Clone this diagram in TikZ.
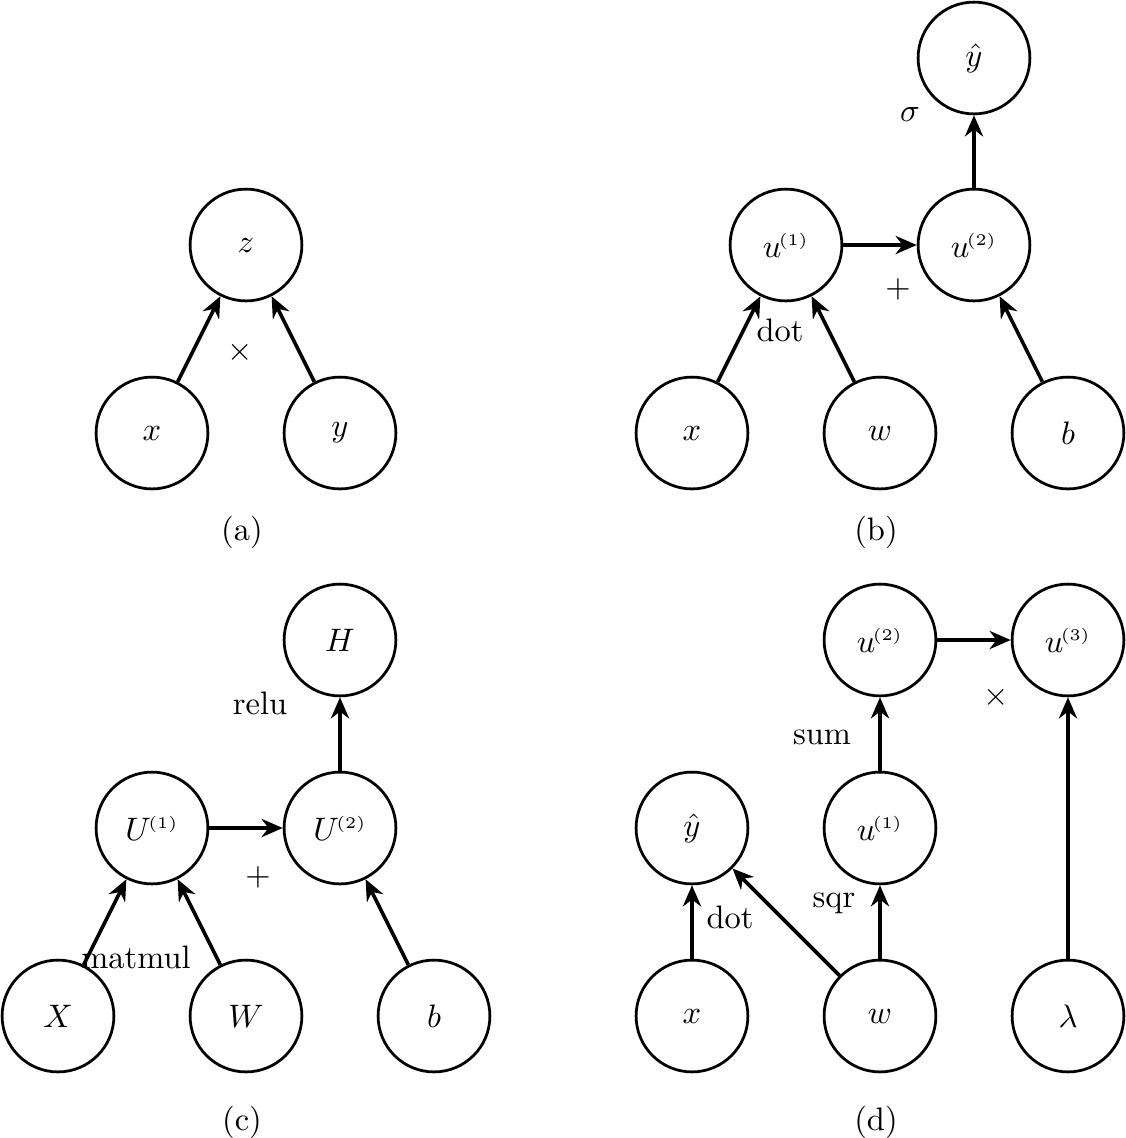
\documentclass[tikz,border=0pt]{standalone}
\usetikzlibrary{arrows.meta}
\newcommand{\supidx}[1]{^{\kern-0.8pt\scriptscriptstyle(#1)}}
\begin{document}
\begin{tikzpicture}[x=0.3077pt,y=-0.3077pt,
  var/.style={circle,draw,line width=0.85pt,minimum size=34.4pt,inner sep=0pt},
  edge/.style={-{Stealth[length=6.5pt,width=5.6pt]},line width=1.1pt},
  thickedge/.style={edge,line width=1.35pt},
  oplab/.style={inner sep=0pt}]
\useasboundingbox (0,0) rectangle (1126,1138);
% ---------- (a)
\node[var] (ax) at (152,433) {$x$};
\node[var] (ay) at (340,433) {$y$};
\node[var] (az) at (246,245) {$z$};
\draw[edge] (ax) -- (az);
\draw[edge] (ay) -- (az);
\node[oplab] (aop) at (240,352) {$\times$};
\node (acap) at (242,532) {(a)};
% ---------- (b)
\node[var] (bx) at (692,433) {$x$};
\node[var] (bw) at (880,433) {$w$};
\node[var] (bb) at (1068,433) {$b$};
\node[var] (bu1) at (786,245) {$u\supidx{1}$};
\node[var] (bu2) at (974,245) {$u\supidx{2}$};
\node[var] (by) at (974,58) {$\hat{y}$};
\draw[edge] (bx) -- (bu1);
\draw[edge] (bw) -- (bu1);
\draw[thickedge] (bu1) -- (bu2);
\draw[edge] (bb) -- (bu2);
\draw[edge] (bu2) -- (by);
\node[oplab] (bdot) at (780,330) {dot};
\node[oplab] (bplus) at (898,289) {$+$};
\node[oplab] (bsig) at (910,114) {$\sigma$};
\node (bcap) at (876,532) {(b)};
% ---------- (c)
\node[var] (cX) at (58,1016) {$X$};
\node[var] (cW) at (246,1016) {$W$};
\node[var] (cb) at (434,1016) {$b$};
\node[var] (cU1) at (152,828) {$U\supidx{1}$};
\node[var] (cU2) at (340,828) {$U\supidx{2}$};
\node[var] (cH) at (340,640) {$H$};
\draw[edge] (cX) -- (cU1);
\draw[edge] (cW) -- (cU1);
\draw[edge] (cU1) -- (cU2);
\draw[edge] (cb) -- (cU2);
\draw[edge] (cU2) -- (cH);
\node[oplab] (cmat) at (136,957) {matmul};
\node[oplab] (cplus) at (258,877) {$+$};
\node[oplab] (crelu) at (260,703) {relu};
\node (ccap) at (242,1122) {(c)};
% ---------- (d)
\node[var] (dx) at (692,1016) {$x$};
\node[var] (dw) at (880,1016) {$w$};
\node[var] (dl) at (1068,1016) {$\lambda$};
\node[var] (dy) at (692,828) {$\hat{y}$};
\node[var] (du1) at (880,828) {$u\supidx{1}$};
\node[var] (du2) at (880,640) {$u\supidx{2}$};
\node[var] (du3) at (1068,640) {$u\supidx{3}$};
\draw[thickedge] (dx) -- (dy);
\draw[edge] (dw) -- (dy);
\draw[thickedge] (dw) -- (du1);
\draw[thickedge] (du1) -- (du2);
\draw[edge] (du2) -- (du3);
\draw[edge] (dl) -- (du3);
\node[oplab] (ddot) at (730,917) {dot};
\node[oplab] (dsqr) at (834,903) {sqr};
\node[oplab] (dsum) at (822,737) {sum};
\node[oplab] (dtimes) at (996,697) {$\times$};
\node (dcap) at (876,1122) {(d)};
\end{tikzpicture}
\end{document}
